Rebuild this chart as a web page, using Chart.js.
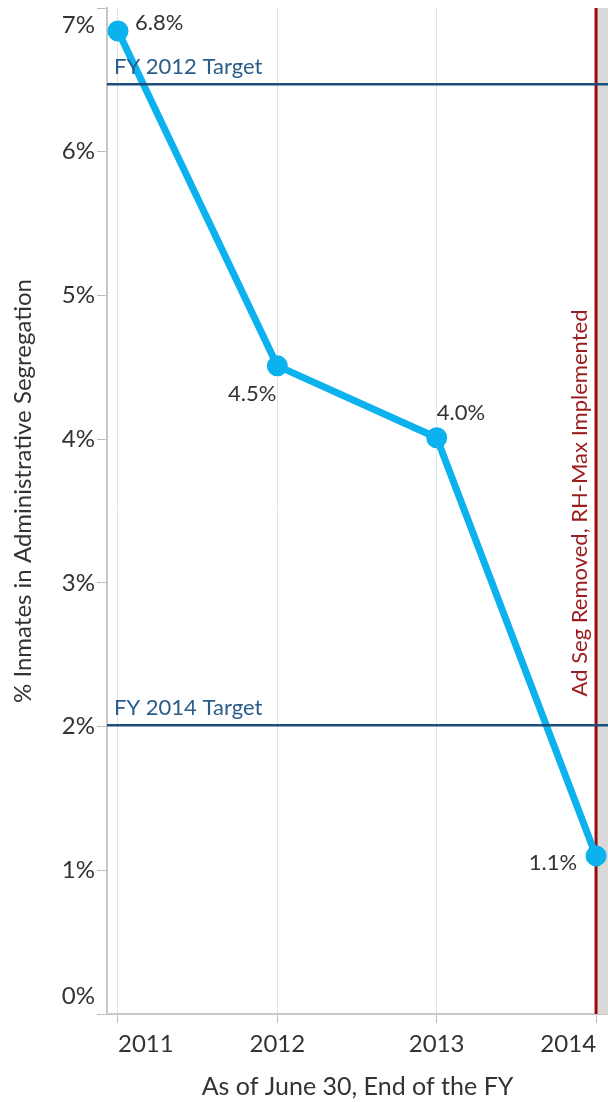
<!DOCTYPE html>
<html>
<head>
<meta charset="utf-8">
<script src="https://cdn.jsdelivr.net/npm/chart.js@4.4.0/dist/chart.umd.min.js"></script>
<style>
  html, body { margin:0; padding:0; background:#fff; }
</style>
</head>
<body>
<canvas id="chart" width="608" height="1102"></canvas>
<script>
// values
const years = [2011, 2012, 2013, 2014]
const pctAdSeg = [6.84, 4.51, 4.01, 1.10]
const yTicks = [0, 1, 2, 3, 4, 5, 6, 7]
const targetValues = [6.47, 2.01]
const targetNames = ['FY 2012 Target', 'FY 2014 Target']
const eventYear = 2014
const eventText = 'Ad Seg Removed, RH-Max Implemented'
const yTitle = '% Inmates in Administrative Segregation'

const FONT = 'Lato, "Open Sans", sans-serif'
const TEXT = '#333333'
const TARGET = '#1d4f7c'

// where each value label sits around its point
const labelPlace = [
  {dx: 17, dy: -8, align: 'left'},
  {dx: -1, dy: 28, align: 'right'},
  {dx: 0, dy: -25, align: 'left'},
  {dx: -19, dy: 7, align: 'right'}
]

const noPad = s => { s.paddingLeft = 0; s.paddingRight = 0; s.paddingTop = 0; s.paddingBottom = 0 }

const extras = {
  id: 'extras',
  beforeDatasetsDraw(chart) {
    const {ctx, chartArea: a, scales: {x}} = chart
    const ex = x.getPixelForValue(eventYear)
    ctx.save()
    ctx.fillStyle = '#d9d9d9'
    ctx.fillRect(ex, a.top, a.right - ex, a.bottom - a.top)
    ctx.strokeStyle = '#9a0a0a'
    ctx.lineWidth = 3
    ctx.beginPath(); ctx.moveTo(ex, a.top); ctx.lineTo(ex, a.bottom); ctx.stroke()
    // event note
    ctx.translate(ex - 16, (a.top + a.bottom) / 2 - 8)
    ctx.rotate(-Math.PI / 2)
    ctx.fillStyle = '#9b1c1c'
    ctx.font = '22px ' + FONT
    ctx.textAlign = 'center'
    ctx.textBaseline = 'middle'
    ctx.fillText(eventText, 0, 0)
    ctx.restore()
  },
  afterDatasetsDraw(chart) {
    const {ctx, chartArea: a, scales: {x, y}} = chart
    ctx.save()
    // target lines
    targetValues.forEach((v, i) => {
      const py = y.getPixelForValue(v)
      ctx.strokeStyle = TARGET
      ctx.lineWidth = 2.5
      ctx.beginPath(); ctx.moveTo(a.left, py); ctx.lineTo(a.right, py); ctx.stroke()
      ctx.fillStyle = '#2b5c8a'
      ctx.font = '22px ' + FONT
      ctx.textAlign = 'left'
      ctx.textBaseline = 'middle'
      ctx.fillText(targetNames[i], a.left + 7, py - 17)
    })
    // value labels
    const meta = chart.getDatasetMeta(0)
    ctx.fillStyle = TEXT
    ctx.font = '22px ' + FONT
    ctx.textBaseline = 'middle'
    meta.data.forEach((pt, i) => {
      const p = labelPlace[i]
      ctx.textAlign = p.align
      ctx.fillText(pctAdSeg[i].toFixed(1) + '%', pt.x + p.dx, pt.y + p.dy)
    })
    // y tick labels, ends pulled inside the axis
    ctx.font = '24px ' + FONT
    ctx.textAlign = 'right'
    yTicks.forEach(v => {
      let py = y.getPixelForValue(v)
      py = Math.min(Math.max(py, a.top + 17), a.bottom - 18)
      ctx.fillText(v + '%', 95, py)
    })
    // y title
    ctx.translate(23, (a.top + a.bottom) / 2 - 20)
    ctx.rotate(-Math.PI / 2)
    ctx.font = '24px ' + FONT
    ctx.textAlign = 'center'
    ctx.fillText(yTitle, 0, 0)
    ctx.restore()
  }
}

const ctx = document.getElementById('chart').getContext('2d')
const chart = new Chart(ctx, {
  type: 'line',
  data: {
    datasets: [{
      data: years.map((yr, i) => ({x: yr, y: pctAdSeg[i]})),
      borderColor: '#0cb2ee',
      backgroundColor: '#0cb2ee',
      borderWidth: 7,
      pointRadius: 7,
      pointHoverRadius: 7,
      tension: 0,
      clip: false
    }]
  },
  options: {
    responsive: false,
    devicePixelRatio: 1,
    animation: false,
    layout: {autoPadding: false, padding: {top: 8, right: 0, bottom: 0, left: 0}},
    plugins: {legend: {display: false}, tooltip: {enabled: false}},
    scales: {
      x: {
        type: 'linear',
        min: 2010.931,
        max: 2014.075,
        afterBuildTicks: s => { s.ticks = years.map(v => ({value: v})) },
        afterFit: s => { s.height = 88; noPad(s) },
        ticks: {
          callback: v => String(v),
          align: 'inner',
          color: TEXT,
          font: {family: FONT, size: 24},
          padding: 7
        },
        grid: {color: '#e4e4e4', lineWidth: 1, drawTicks: true, tickLength: 9, tickColor: '#bdbdbd'},
        border: {color: '#c8c8c8', width: 2},
        title: {
          display: true,
          text: 'As of June 30, End of the FY',
          color: TEXT,
          font: {family: FONT, size: 25},
          padding: {top: 0, bottom: 0}
        }
      },
      y: {
        min: 0,
        max: 7,
        afterBuildTicks: s => { s.ticks = yTicks.map(v => ({value: v})) },
        afterFit: s => { s.width = 107; noPad(s) },
        ticks: {display: false},
        grid: {drawOnChartArea: false, drawTicks: true, tickLength: 10, color: '#bdbdbd'},
        border: {color: '#c8c8c8', width: 2}
      }
    }
  },
  plugins: [extras]
})
</script>
</body>
</html>
